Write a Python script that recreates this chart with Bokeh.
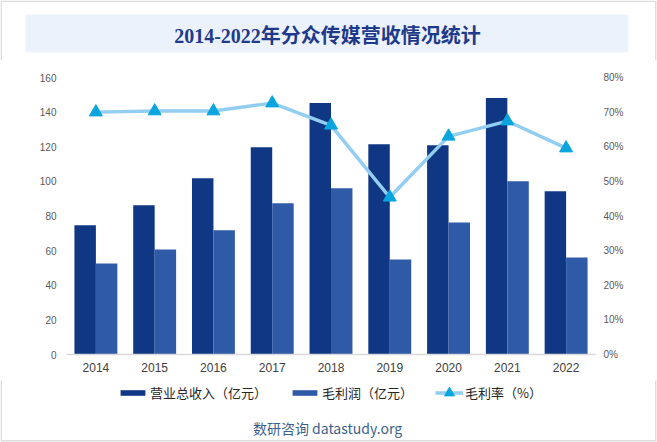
from bokeh.plotting import figure
from bokeh.layouts import column
from bokeh.models import (FactorRange, Range1d, LinearAxis, FixedTicker, PrintfTickFormatter,
                          Legend, LegendItem, ColumnDataSource, BoxAnnotation, Label)
from bokeh.transform import dodge
from bokeh.embed import file_html
from bokeh.resources import INLINE

years = ["2014", "2015", "2016", "2017", "2018", "2019", "2020", "2021", "2022"]
revenue = [74.6, 86.2, 101.8, 119.7, 145.2, 121.5, 120.9, 148.1, 94.3]
profit = [52.6, 60.7, 71.7, 87.3, 96.0, 54.9, 76.3, 100.1, 56.1]
margin = [70.0, 70.3, 70.3, 72.6, 66.2, 45.4, 63.0, 67.4, 59.6]
left_ticks = [0, 20, 40, 60, 80, 100, 120, 140, 160]
right_ticks = [0, 10, 20, 30, 40, 50, 60, 70, 80]

title_text = "2014-2022年分众传媒营收情况统计"
source_text = "数研咨询 datastudy.org"
names = ["营业总收入（亿元）", "毛利润（亿元）", "毛利率（%）"]

C_REV = "#0F3784"
C_PROF = "#2F5AA8"
C_LINE = "#92CDF2"
C_MARK = "#0AA5DE"
C_EDGE = "#8C8C8C"

W = 657
src = ColumnDataSource(dict(year=years, revenue=revenue, profit=profit, margin=margin))

# ---------- title strip ----------
pt = figure(width=W, height=60, x_range=Range1d(0, W), y_range=Range1d(60, 0),
            x_axis_type=None, y_axis_type=None, output_backend="svg", toolbar_location=None,
            min_border=0, frame_align=False)
pt.outline_line_color = None
pt.grid.visible = False
pt.add_layout(BoxAnnotation(left=25, right=628, top=14, bottom=52, fill_color="#EBF2FC",
                            fill_alpha=1, line_color=None))
pt.add_layout(BoxAnnotation(left=0.75, right=W - 1.75, top=0.75, bottom=80, fill_alpha=0,
                            line_color=C_EDGE, line_width=1.5))
pt.add_layout(Label(x=327, y=35, text=title_text, text_align="center", text_baseline="middle",
                    text_font="Liberation Serif, Noto Sans CJK SC", text_font_style="bold",
                    text_font_size="20px", text_color="#1F3A8A"))

# ---------- main chart ----------
p = figure(x_range=FactorRange(*years, range_padding=0, factor_padding=0),
           y_range=Range1d(0, 160), width=W, height=320,
           output_backend="svg", toolbar_location=None, frame_align=False,
           min_border_left=66, min_border_right=62, min_border_top=17, min_border_bottom=26)
p.outline_line_color = None
p.xgrid.visible = False
p.ygrid.visible = False
p.extra_y_ranges = {"pct": Range1d(0, 80)}

r1 = p.vbar(x=dodge("year", -0.1825, range=p.x_range), top="revenue", width=0.365,
            source=src, fill_color=C_REV, line_color=None)
r2 = p.vbar(x=dodge("year", 0.1825, range=p.x_range), top="profit", width=0.365,
            source=src, fill_color=C_PROF, line_color=None)
r3 = p.line(x="year", y="margin", source=src, y_range_name="pct",
            line_color=C_LINE, line_width=3.5)
r4 = p.scatter(x="year", y="margin", source=src, y_range_name="pct", marker="triangle",
               size=13, fill_color=C_MARK, line_color=C_MARK)

ax = p.yaxis[0]
ax.ticker = FixedTicker(ticks=left_ticks)
ax.axis_line_color = None
ax.major_tick_line_color = None
ax.minor_tick_line_color = None
ax.major_tick_out = 0
ax.major_tick_in = 0
ax.major_label_standoff = 10
ax.major_label_text_font = "Liberation Sans"
ax.major_label_text_font_size = "10px"
ax.major_label_text_color = "#595959"

rax = LinearAxis(y_range_name="pct", ticker=FixedTicker(ticks=right_ticks),
                 formatter=PrintfTickFormatter(format="%d%%"))
rax.axis_line_color = None
rax.major_tick_line_color = None
rax.minor_tick_line_color = None
rax.major_tick_out = 0
rax.major_tick_in = 0
rax.major_label_standoff = 8
rax.major_label_text_font = "Liberation Sans"
rax.major_label_text_font_size = "10px"
rax.major_label_text_color = "#595959"
p.add_layout(rax, "right")

xa = p.xaxis[0]
xa.axis_line_color = "#D9D9D9"
xa.axis_line_width = 1.5
xa.major_tick_line_color = None
xa.major_tick_out = 0
xa.major_tick_in = 0
xa.major_label_standoff = 8
xa.major_label_text_font = "Liberation Sans"
xa.major_label_text_font_size = "12px"
xa.major_label_text_color = "#404040"

# ---------- legend + source strip ----------
pb = figure(width=W, height=62, x_range=Range1d(0, W), y_range=Range1d(62, 0),
            x_axis_type=None, y_axis_type=None, output_backend="svg", toolbar_location=None,
            min_border=0, frame_align=False)
pb.outline_line_color = None
pb.grid.visible = False
pb.extra_y_ranges = {"hidden": Range1d(1000, 2000)}
hid = dict(source=src, y_range_name="hidden")
e1 = pb.vbar(x="revenue", top="revenue", width=1, fill_color=C_REV, line_color=None, **hid)
e2 = pb.vbar(x="profit", top="profit", width=1, fill_color=C_PROF, line_color=None, **hid)
e3 = pb.line(x="revenue", y="margin", line_color=C_LINE, line_width=3.5, **hid)
e4 = pb.scatter(x="revenue", y="margin", marker="triangle", size=13, fill_color=C_MARK,
                line_color=C_MARK, **hid)

common = dict(orientation="horizontal", padding=0, margin=0, border_line_color=None,
              background_fill_alpha=0, label_text_font="Noto Sans CJK SC",
              label_text_font_size="13px", label_text_color="#262626", label_height=18)
leg1 = Legend(items=[LegendItem(label=names[0], renderers=[e1]),
                     LegendItem(label=names[1], renderers=[e2])],
              location=(117, 40), glyph_width=31, glyph_height=7, label_standoff=2,
              spacing=22, **common)
leg2 = Legend(items=[LegendItem(label=names[2], renderers=[e3, e4])],
              location=(435, 37), glyph_width=28, glyph_height=25, label_standoff=2, **common)
pb.add_layout(leg1, "center")
pb.add_layout(leg2, "center")
pb.add_layout(BoxAnnotation(left=0.75, right=W - 1.75, top=-20, bottom=60.25, fill_alpha=0,
                            line_color=C_EDGE, line_width=1.5))
pb.add_layout(Label(x=327, y=47, text=source_text, text_align="center", text_baseline="middle",
                    text_font="Noto Sans CJK SC", text_font_size="14px", text_color="#3D5F8F"))

lay = column(pt, p, pb, spacing=0)

open("out.html", "w").write(file_html(lay, INLINE))
